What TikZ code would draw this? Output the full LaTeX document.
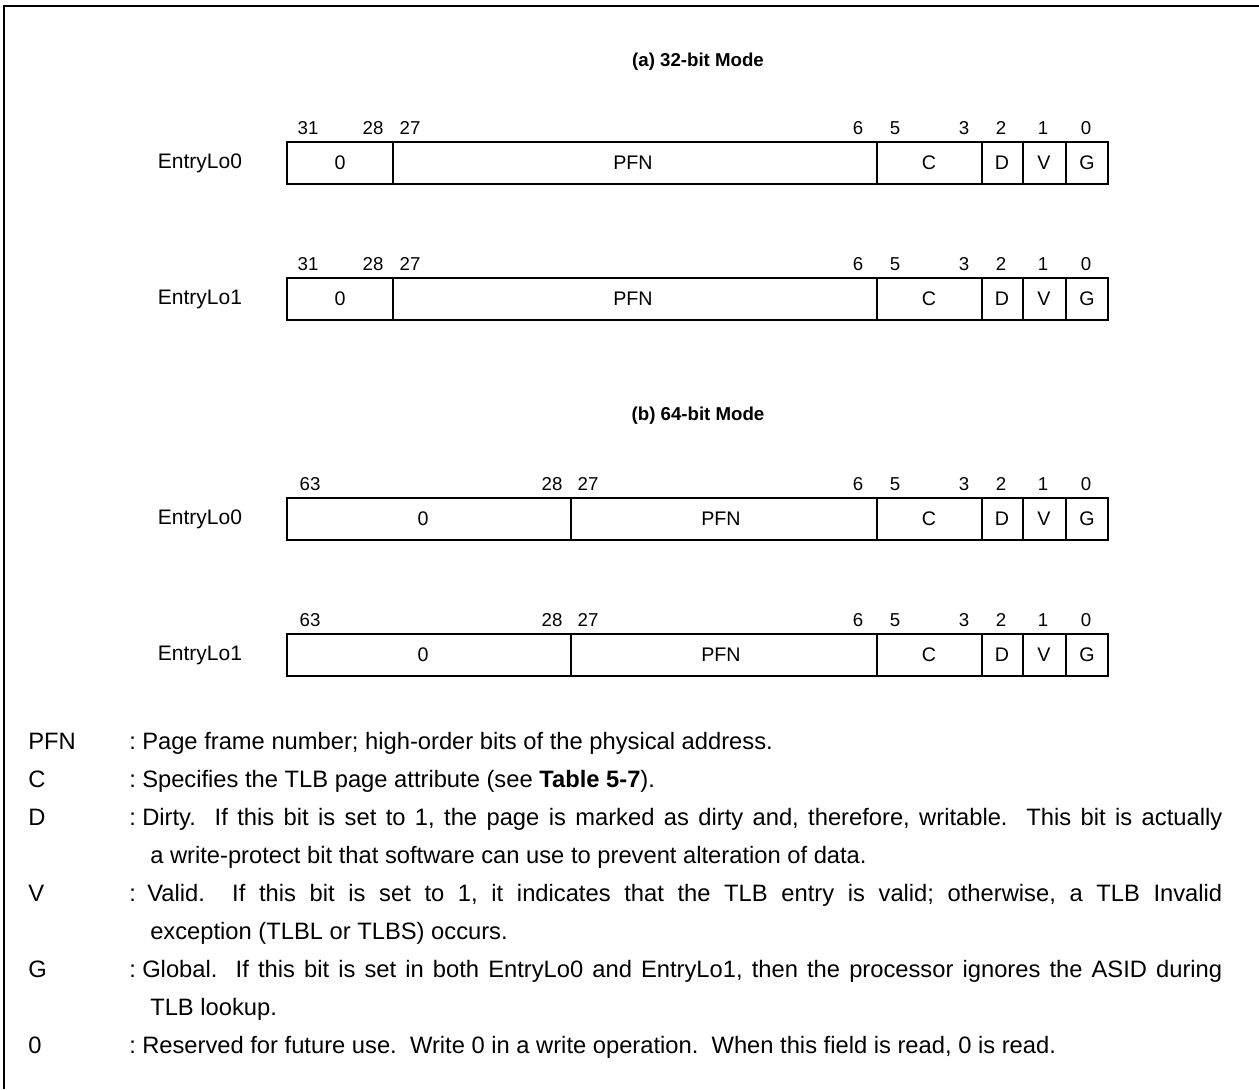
\documentclass[tikz,border=0pt]{standalone}
\usepackage{fontspec}
\setmainfont{Liberation Sans}
\frenchspacing
\begin{document}
\begin{tikzpicture}[x=0.75pt,y=-0.75pt,
  frame/.style={line width=1.6pt},
  border/.style={line width=2pt},
  divider/.style={line width=0.8pt},
  regname/.style={font=\fontsize{15.75}{18}\selectfont, inner sep=0pt},
  bitnum/.style={font=\fontsize{14}{16}\selectfont, inner sep=0pt},
  field/.style={font=\fontsize{14.75}{17}\selectfont, inner sep=0pt},
  title/.style={font=\fontsize{14}{17}\selectfont\bfseries, inner sep=0pt},
  legend/.style={font=\fontsize{17.8}{20}\selectfont, inner sep=0pt, anchor=base west},
]
\useasboundingbox (0,0) rectangle (1259,1089);
% frame
\draw[frame] (4,1089) -- (4,6) -- (1259,6);

% titles
\node[title] (ta) at (698,62) {(a) 32-bit Mode};
\node[title] (tb) at (698,416) {(b) 64-bit Mode};

% 32-bit rows
\foreach \r/\T/\lab in {a/142/EntryLo0, b/278/EntryLo1} {
  \node[regname] (\r name) at (200,\T+21) {\lab};
  \draw[border] (287,\T) rectangle (1108,\T+42);
  \foreach \x in {393,877,982,1023,1066} \draw[divider] (\x,\T) -- (\x,\T+42);
  \foreach \t/\x/\n in {0/340/fz, PFN/633/fpfn, C/929/fc, D/1002/fd, V/1044/fv, G/1087/fg}
    \node[field] (\r\n) at (\x,\T+21) {\t};
  \foreach \t/\x in {31/308, 28/373, 27/410, 6/858, 5/895, 3/964, 2/1001, 1/1043, 0/1086}
    \node[bitnum] (\r bit\t) at (\x,\T-14) {\t};
}

% 64-bit rows
\foreach \r/\T/\lab in {c/498/EntryLo0, d/634/EntryLo1} {
  \node[regname] (\r name) at (200,\T+21) {\lab};
  \draw[border] (287,\T) rectangle (1108,\T+42);
  \foreach \x in {571,877,982,1023,1066} \draw[divider] (\x,\T) -- (\x,\T+42);
  \foreach \t/\x/\n in {0/423/fz, PFN/721/fpfn, C/929/fc, D/1002/fd, V/1044/fv, G/1087/fg}
    \node[field] (\r\n) at (\x,\T+21) {\t};
  \foreach \t/\x in {63/310, 28/552, 27/588, 6/858, 5/895, 3/964, 2/1001, 1/1043, 0/1086}
    \node[bitnum] (\r bit\t) at (\x,\T-14) {\t};
}

% legend
\foreach \k/\yy/\lab in {pfn/749/PFN, c/787/C, d/825/D, v/901/V, g/977/G, z/1053/0} {
  \node[legend] (key\k) at (28,\yy) {\lab};
  \node[legend] (col\k) at (129,\yy) {:};
}
\node[legend] (txtpfn) at (142,749) {Page frame number; high-order bits of the physical address.};
\node[legend] (txtc) at (142,787) {Specifies the TLB page attribute (see \textbf{Table 5-7}).};
\node[legend] (txtda) at (142,825) {\makebox[810pt][s]{Dirty.\ \ If this bit is set to 1, the page is marked as dirty and, therefore, writable.\ \ This bit is actually}};
\node[legend] (txtdb) at (150,863) {a write-protect bit that software can use to prevent alteration of data.};
\node[legend] (txtva) at (147,901) {\makebox[806.25pt][s]{Valid.\ \ If this bit is set to 1, it indicates that the TLB entry is valid; otherwise, a TLB Invalid}};
\node[legend] (txtvb) at (150,939) {exception (TLBL or TLBS) occurs.};
\node[legend] (txtga) at (142,977) {\makebox[810pt][s]{Global.\ \ If this bit is set in both EntryLo0 and EntryLo1, then the processor ignores the ASID during}};
\node[legend] (txtgb) at (150,1015) {TLB lookup.};
\node[legend] (txtz) at (142,1053) {Reserved for future use.\ \ Write 0 in a write operation.\ \ When this field is read, 0 is read.};
\end{tikzpicture}
\end{document}
